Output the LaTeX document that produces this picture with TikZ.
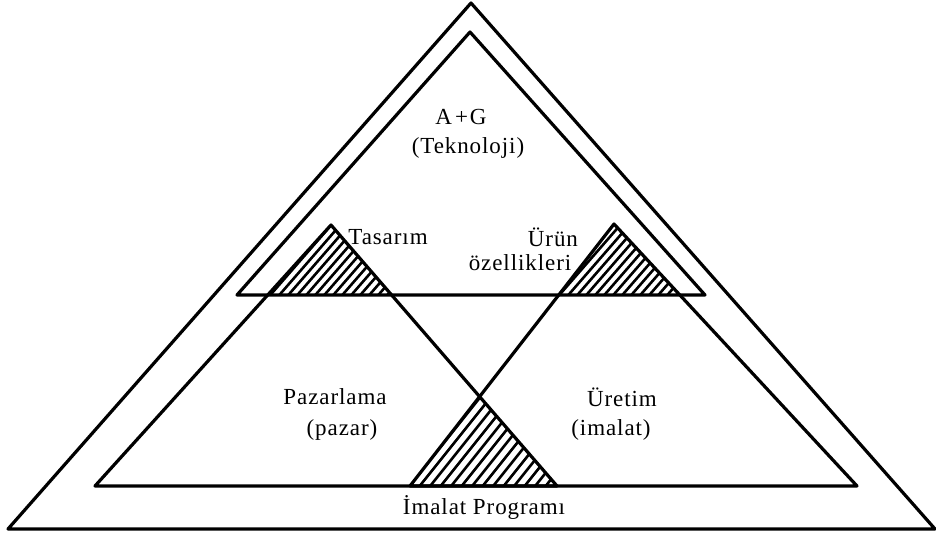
\documentclass[tikz,border=0pt]{standalone}
\usepackage{fontspec}
\setmainfont{Liberation Serif}[LetterSpace=4]
\begin{document}
\begin{tikzpicture}[x=0.5pt,y=-0.5pt,
  edge/.style={line width=1.6pt,line join=round,line cap=round},
  hatch/.style={line width=1.3pt},
  lbl/.style={inner sep=0pt,font=\fontsize{11.5}{13}\selectfont}]
\useasboundingbox (0,0) rectangle (936,539);

% corner points
\coordinate (O1) at (471,3);
\coordinate (O2) at (8,529);
\coordinate (O3) at (935,529);
\coordinate (T1) at (470,32);
\coordinate (T2) at (237,295);
\coordinate (T3) at (705,295);
\coordinate (PA) at (331,225);
\coordinate (PL) at (95,486);
\coordinate (PR) at (557,486);
\coordinate (UA) at (614,224);
\coordinate (UL) at (410,486);
\coordinate (UR) at (857,486);
\coordinate (X)  at (479,398);
% where the two small triangles meet the horizontal line
\coordinate (h1) at (268,295);
\coordinate (h2) at (392,295);
\coordinate (h3) at (559,295);
\coordinate (h4) at (680,295);

% hatched overlaps
\begin{scope}
  \clip (PA) -- (h1) -- (h2) -- cycle;
  \foreach \k in {0,...,24} \draw[hatch] ({203+\k*9},300) -- ++(100,-115);
\end{scope}
\begin{scope}
  \clip (UA) -- (h3) -- (h4) -- cycle;
  \foreach \k in {0,...,26} \draw[hatch] ({474+\k*9},300) -- ++(100,-115);
\end{scope}
\begin{scope}
  \clip (X) -- (UL) -- (PR) -- cycle;
  \foreach \k in {0,...,24} \draw[hatch] ({322+\k*10.5},490) -- ++(100,-125);
\end{scope}

% outlines
\draw[edge] (O1) -- (O2) -- (O3) -- cycle;
\draw[edge] (T1) -- (T2) -- (T3) -- cycle;
\draw[edge] (PA) -- (PL) -- (PR) -- cycle;
\draw[edge] (UA) -- (UL) -- (UR) -- cycle;

% labels
\node[lbl] (ag)   at (461,117) {A\kern1.5pt+\kern1pt G};
\node[lbl] (tek)  at (468,148) {(Teknoloji)};
\node[lbl] (tas)  at (388,237) {Tasarım};
\node[lbl] (urun) at (553,237) {Ürün};
\node[lbl] (ozel) at (520,263) {özellikleri};
\node[lbl] (paz)  at (335,397) {Pazarlama};
\node[lbl] (pzr)  at (342,430) {(pazar)};
\node[lbl] (ure)  at (622,397) {Üretim};
\node[lbl] (ima)  at (611,430) {(imalat)};
\node[lbl] (prog) at (484,507) {İmalat Programı};
\end{tikzpicture}
\end{document}
